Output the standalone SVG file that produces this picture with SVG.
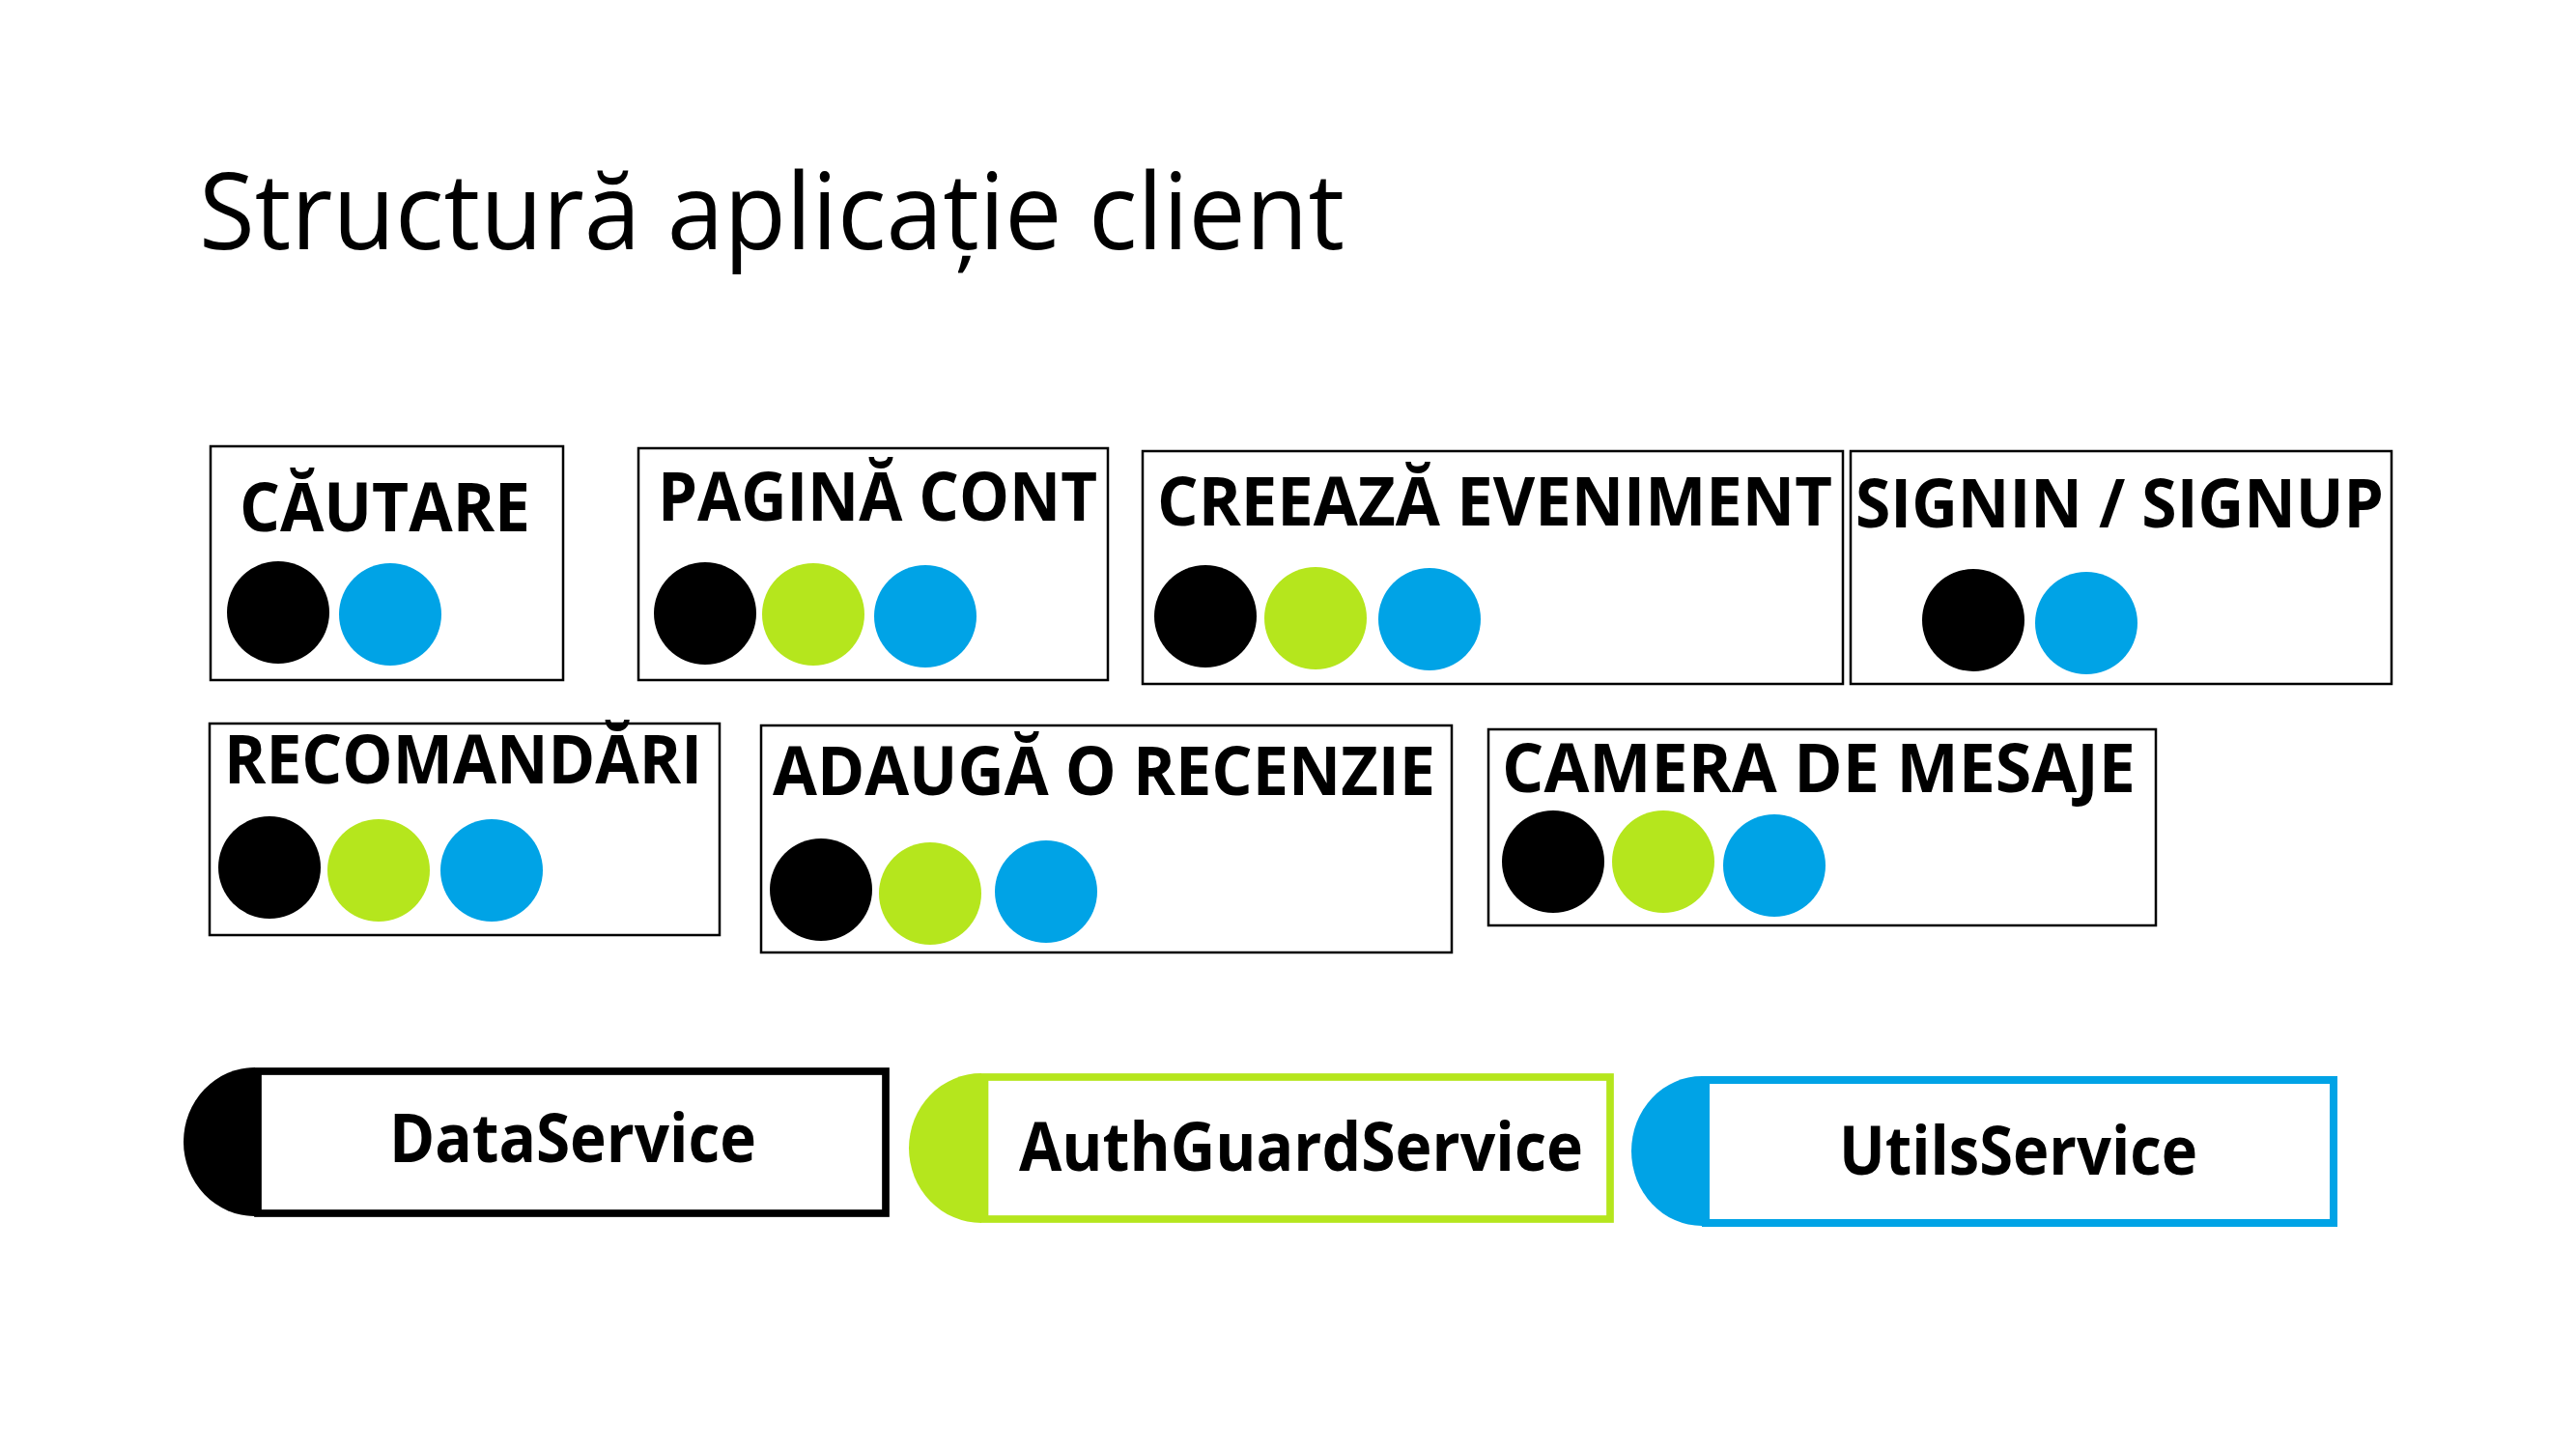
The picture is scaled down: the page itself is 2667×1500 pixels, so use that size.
<svg xmlns="http://www.w3.org/2000/svg" width="2667" height="1500" viewBox="0 0 2667 1500">
<style>
.bg{fill:#ffffff}
.box{fill:#ffffff;stroke:#000000;stroke-width:2.5}
.lbl{font-family:"Open Sans","Liberation Sans",sans-serif;font-weight:700;font-size:69px;fill:#000000}
.svc{font-family:"Open Sans","Liberation Sans",sans-serif;font-weight:700;font-size:69px;fill:#000000;text-anchor:middle}
.title{font-family:"Open Sans","Liberation Sans",sans-serif;font-weight:400;font-size:109px;fill:#000000}
.k{fill:#000000}
.g{fill:#B5E61D}
.b{fill:#00A3E6}
</style>
<rect class="bg" x="0" y="0" width="2667" height="1500"/>
<text class="title" x="206" y="258" textLength="1186" lengthAdjust="spacingAndGlyphs">Structură aplicație client</text>

<g id="node-cautare">
<rect class="box" x="218" y="462" width="365" height="242"/>
<text class="lbl" x="248" y="550" textLength="301" lengthAdjust="spacingAndGlyphs">CĂUTARE</text>
<ellipse class="k" cx="288" cy="634" rx="53" ry="53"/>
<ellipse class="b" cx="404" cy="636" rx="53" ry="53"/>
</g>

<g id="node-pagina-cont">
<rect class="box" x="661" y="464" width="486" height="240"/>
<text class="lbl" x="681" y="539" textLength="455" lengthAdjust="spacingAndGlyphs">PAGINĂ CONT</text>
<ellipse class="k" cx="730" cy="635" rx="53" ry="53"/>
<ellipse class="g" cx="842" cy="636" rx="53" ry="53"/>
<ellipse class="b" cx="958" cy="638" rx="53" ry="53"/>
</g>

<g id="node-creeaza-eveniment">
<rect class="box" x="1183" y="467" width="725" height="241"/>
<text class="lbl" x="1198" y="544" textLength="699" lengthAdjust="spacingAndGlyphs">CREEAZĂ EVENIMENT</text>
<ellipse class="k" cx="1248" cy="638" rx="53" ry="53"/>
<ellipse class="g" cx="1362" cy="640" rx="53" ry="53"/>
<ellipse class="b" cx="1480" cy="641" rx="53" ry="53"/>
</g>

<g id="node-signin-signup">
<rect class="box" x="1916" y="467" width="560" height="241"/>
<text class="lbl" x="1921" y="546" textLength="547" lengthAdjust="spacingAndGlyphs">SIGNIN / SIGNUP</text>
<ellipse class="k" cx="2043" cy="642" rx="53" ry="53"/>
<ellipse class="b" cx="2160" cy="645" rx="53" ry="53"/>
</g>

<g id="node-recomandari">
<rect class="box" x="217" y="749" width="528" height="219"/>
<text class="lbl" x="232" y="811" textLength="495" lengthAdjust="spacingAndGlyphs">RECOMANDĂRI</text>
<ellipse class="k" cx="279" cy="898" rx="53" ry="53"/>
<ellipse class="g" cx="392" cy="901" rx="53" ry="53"/>
<ellipse class="b" cx="509" cy="901" rx="53" ry="53"/>
</g>

<g id="node-adauga-recenzie">
<rect class="box" x="788" y="751" width="715" height="235"/>
<text class="lbl" x="800" y="823" textLength="686" lengthAdjust="spacingAndGlyphs">ADAUGĂ O RECENZIE</text>
<ellipse class="k" cx="850" cy="921" rx="53" ry="53"/>
<ellipse class="g" cx="963" cy="925" rx="53" ry="53"/>
<ellipse class="b" cx="1083" cy="923" rx="53" ry="53"/>
</g>

<g id="node-camera-mesaje">
<rect class="box" x="1541" y="755" width="691" height="203"/>
<text class="lbl" x="1555" y="820" textLength="656" lengthAdjust="spacingAndGlyphs">CAMERA DE MESAJE</text>
<ellipse class="k" cx="1608" cy="892" rx="53" ry="53"/>
<ellipse class="g" cx="1722" cy="892" rx="53" ry="53"/>
<ellipse class="b" cx="1837" cy="896" rx="53" ry="53"/>
</g>

<g id="service-data">
<path class="k" d="M264,1105 A74,77 0 0 0 264,1259 Z"/>
<rect x="267" y="1109" width="650" height="147" fill="#ffffff" stroke="#000000" stroke-width="7.7"/>
<text class="svc" x="593" y="1203" textLength="380" lengthAdjust="spacingAndGlyphs">DataService</text>
</g>

<g id="service-authguard">
<path class="g" d="M1016,1111 A75,77.5 0 0 0 1016,1266 Z"/>
<rect x="1019.5" y="1115" width="647.5" height="147" fill="#ffffff" stroke="#B5E61D" stroke-width="7.7"/>
<text class="svc" x="1347" y="1212" textLength="584" lengthAdjust="spacingAndGlyphs">AuthGuardService</text>
</g>

<g id="service-utils">
<path class="b" d="M1762,1114 A73,77.5 0 0 0 1762,1269 Z"/>
<rect x="1766" y="1118" width="650" height="148" fill="#ffffff" stroke="#00A3E6" stroke-width="8"/>
<text class="svc" x="2089.5" y="1216" textLength="371" lengthAdjust="spacingAndGlyphs">UtilsService</text>
</g>

<g id="connectors"></g>
</svg>
